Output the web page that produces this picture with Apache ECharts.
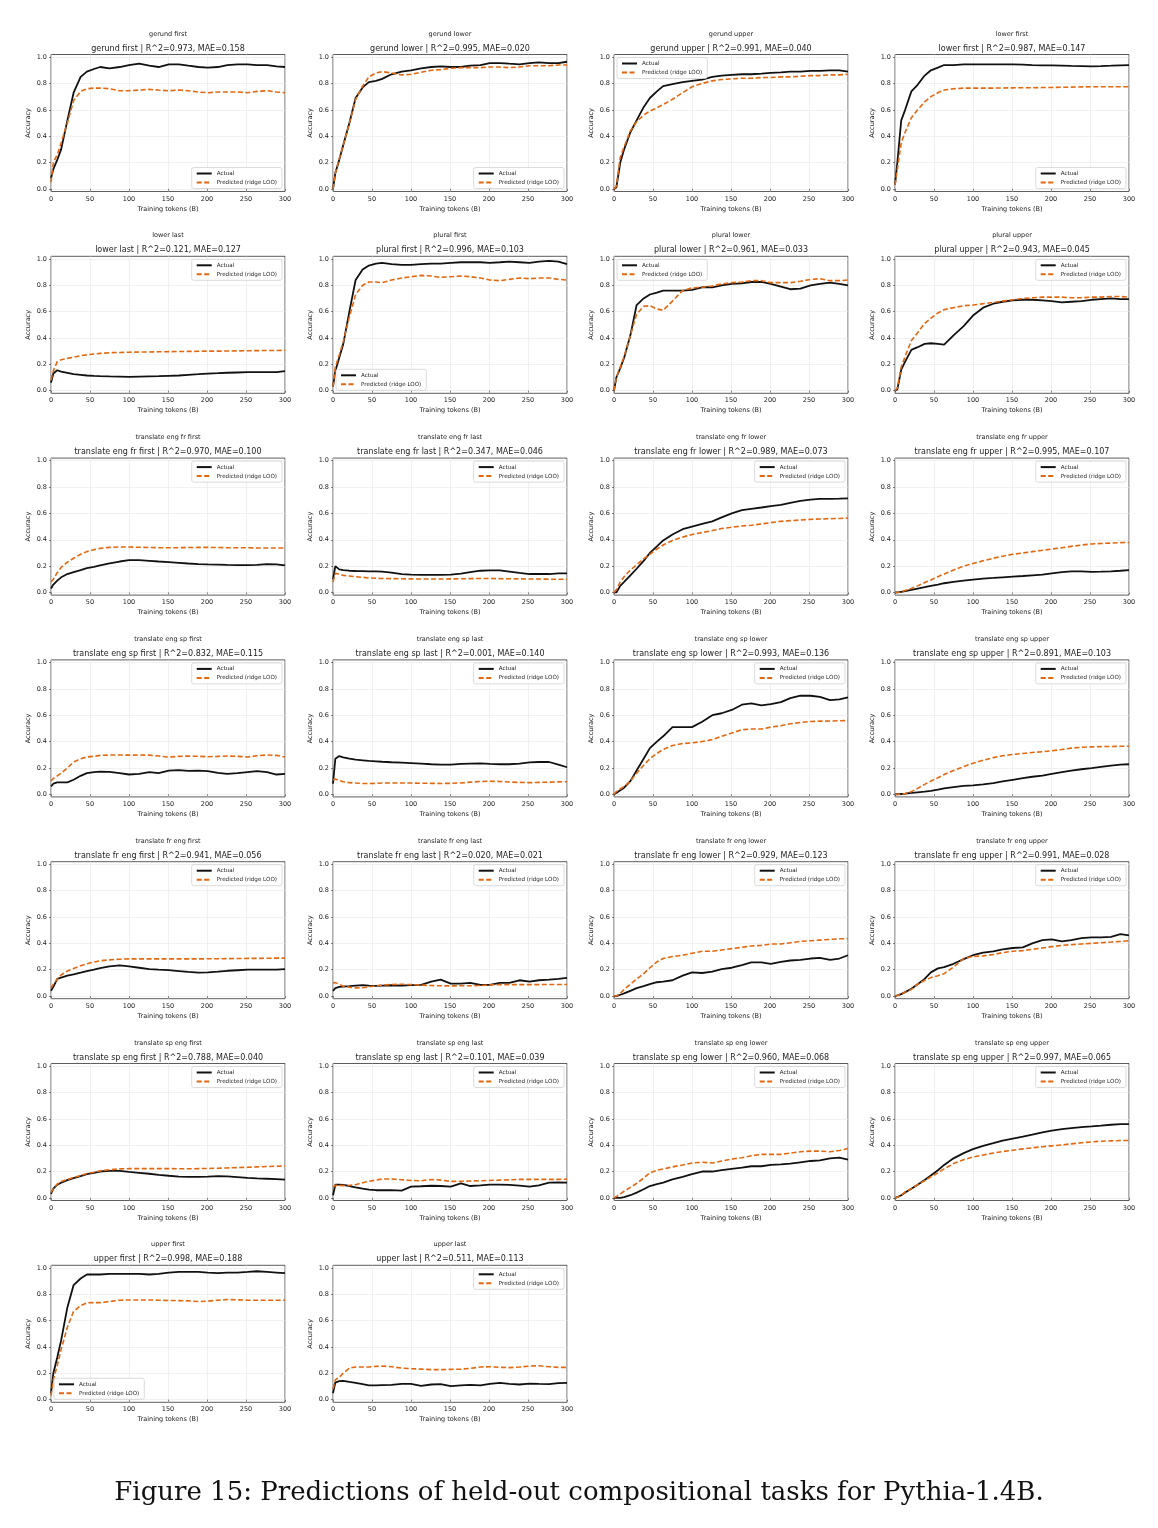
<!DOCTYPE html>
<html>
<head>
<meta charset="utf-8">
<script src="https://cdn.jsdelivr.net/npm/echarts@6/dist/echarts.min.js"></script>
<style>
  html, body { margin: 0; padding: 0; background: #fff; }
  #chart { width: 1158px; height: 1528px; }
</style>
</head>
<body>
<div id="chart"></div>
<script>
// training tokens (billions) at which each curve is sampled
const tokensB = [0, 3, 8, 13, 21, 29, 38, 46, 55, 63, 75, 88, 100, 113, 126, 138, 151, 164, 176, 189, 201, 214, 226, 239, 252, 264, 277, 289, 300];

const gerundFirstActual = [0.08,0.15,0.22,0.3,0.52,0.73,0.85,0.89,0.91,0.925,0.915,0.925,0.94,0.95,0.935,0.925,0.945,0.945,0.935,0.925,0.92,0.925,0.94,0.945,0.945,0.94,0.94,0.93,0.925];
const gerundFirstPred = [0.05,0.2,0.26,0.35,0.5,0.67,0.74,0.76,0.765,0.765,0.76,0.745,0.745,0.75,0.755,0.75,0.745,0.75,0.745,0.735,0.73,0.735,0.735,0.735,0.73,0.74,0.745,0.735,0.73];
const gerundLowerActual = [0,0.12,0.22,0.33,0.5,0.69,0.77,0.81,0.82,0.835,0.87,0.89,0.9,0.915,0.925,0.93,0.925,0.925,0.935,0.94,0.955,0.955,0.95,0.945,0.955,0.96,0.955,0.955,0.965];
const gerundLowerPred = [0,0.12,0.23,0.33,0.5,0.68,0.78,0.85,0.88,0.89,0.88,0.865,0.87,0.885,0.9,0.905,0.915,0.92,0.92,0.92,0.925,0.925,0.92,0.925,0.935,0.935,0.935,0.94,0.94];
const gerundUpperActual = [0,0.01,0.2,0.3,0.43,0.52,0.62,0.69,0.74,0.78,0.795,0.81,0.82,0.83,0.85,0.86,0.865,0.87,0.87,0.875,0.88,0.885,0.89,0.89,0.895,0.895,0.9,0.9,0.89];
const gerundUpperPred = [0,0.02,0.24,0.32,0.44,0.51,0.56,0.59,0.615,0.64,0.68,0.73,0.775,0.8,0.82,0.83,0.835,0.84,0.84,0.845,0.845,0.85,0.85,0.855,0.86,0.86,0.865,0.865,0.87];
const lowerFirstActual = [0.03,0.2,0.52,0.6,0.74,0.79,0.86,0.9,0.92,0.94,0.94,0.945,0.945,0.945,0.945,0.945,0.945,0.943,0.94,0.938,0.937,0.935,0.933,0.932,0.93,0.932,0.935,0.938,0.94];
const lowerFirstPred = [0.03,0.15,0.35,0.43,0.54,0.6,0.66,0.7,0.73,0.75,0.76,0.765,0.765,0.765,0.765,0.766,0.767,0.768,0.768,0.769,0.77,0.771,0.772,0.774,0.775,0.775,0.775,0.775,0.775];
const lowerLastActual = [0.06,0.13,0.155,0.145,0.135,0.125,0.12,0.115,0.112,0.11,0.108,0.106,0.104,0.106,0.108,0.11,0.113,0.115,0.12,0.125,0.13,0.133,0.136,0.138,0.14,0.14,0.14,0.14,0.148];
const lowerLastPred = [0.08,0.15,0.22,0.235,0.245,0.255,0.265,0.272,0.278,0.283,0.288,0.29,0.292,0.293,0.294,0.295,0.296,0.297,0.298,0.299,0.3,0.3,0.301,0.302,0.303,0.304,0.305,0.305,0.306];
const pluralFirstActual = [0.03,0.15,0.25,0.35,0.6,0.84,0.92,0.95,0.965,0.97,0.96,0.955,0.955,0.96,0.965,0.965,0.97,0.975,0.975,0.975,0.97,0.975,0.98,0.975,0.97,0.98,0.985,0.98,0.96];
const pluralFirstPred = [0.03,0.18,0.27,0.37,0.56,0.73,0.8,0.825,0.825,0.82,0.84,0.855,0.865,0.875,0.87,0.86,0.865,0.87,0.865,0.855,0.84,0.835,0.845,0.855,0.85,0.855,0.855,0.845,0.84];
const pluralLowerActual = [0,0.1,0.17,0.25,0.42,0.65,0.7,0.73,0.745,0.76,0.76,0.76,0.765,0.785,0.785,0.8,0.81,0.815,0.825,0.825,0.81,0.79,0.77,0.775,0.8,0.81,0.82,0.81,0.8];
const pluralLowerPred = [0,0.1,0.18,0.26,0.42,0.58,0.64,0.645,0.62,0.61,0.68,0.76,0.78,0.785,0.795,0.81,0.82,0.825,0.835,0.835,0.82,0.82,0.82,0.83,0.845,0.85,0.835,0.835,0.84];
const pluralUpperActual = [0,0.01,0.16,0.22,0.31,0.33,0.355,0.36,0.355,0.35,0.42,0.49,0.57,0.63,0.66,0.675,0.685,0.69,0.69,0.685,0.68,0.67,0.675,0.68,0.69,0.695,0.7,0.695,0.695];
const pluralUpperPred = [0,0.02,0.18,0.26,0.38,0.44,0.51,0.55,0.59,0.615,0.63,0.645,0.65,0.66,0.67,0.68,0.69,0.7,0.705,0.71,0.71,0.71,0.705,0.705,0.71,0.71,0.715,0.715,0.71];
const engFrFirstActual = [0.03,0.06,0.09,0.115,0.14,0.155,0.17,0.185,0.195,0.205,0.22,0.235,0.245,0.245,0.24,0.235,0.23,0.225,0.22,0.215,0.213,0.212,0.21,0.208,0.207,0.21,0.215,0.213,0.205];
const engFrFirstPred = [0.08,0.1,0.15,0.19,0.23,0.26,0.29,0.31,0.325,0.335,0.342,0.345,0.345,0.343,0.341,0.34,0.34,0.34,0.341,0.342,0.342,0.341,0.34,0.339,0.339,0.338,0.338,0.338,0.337];
const engFrLastActual = [0.1,0.2,0.175,0.17,0.165,0.163,0.162,0.16,0.16,0.158,0.15,0.14,0.135,0.133,0.133,0.133,0.135,0.143,0.155,0.165,0.167,0.167,0.158,0.148,0.14,0.14,0.14,0.145,0.145];
const engFrLastPred = [0.08,0.145,0.14,0.13,0.125,0.12,0.115,0.11,0.108,0.106,0.105,0.104,0.103,0.102,0.102,0.102,0.103,0.104,0.105,0.106,0.106,0.105,0.104,0.103,0.102,0.102,0.101,0.1,0.1];
const engFrLowerActual = [0,0,0.05,0.08,0.13,0.18,0.24,0.3,0.35,0.395,0.44,0.48,0.5,0.52,0.54,0.57,0.6,0.625,0.635,0.645,0.655,0.665,0.68,0.695,0.705,0.71,0.71,0.712,0.715];
const engFrLowerPred = [0,0.02,0.08,0.12,0.17,0.21,0.255,0.29,0.33,0.36,0.395,0.42,0.44,0.455,0.47,0.485,0.495,0.505,0.51,0.52,0.53,0.54,0.545,0.55,0.555,0.558,0.56,0.562,0.565];
const engFrUpperActual = [0,0,0.005,0.01,0.02,0.03,0.04,0.05,0.06,0.07,0.08,0.09,0.098,0.105,0.11,0.115,0.12,0.125,0.13,0.135,0.145,0.155,0.16,0.16,0.157,0.158,0.16,0.165,0.17];
const engFrUpperPred = [0,0,0.005,0.015,0.03,0.05,0.075,0.095,0.12,0.14,0.17,0.2,0.22,0.24,0.26,0.275,0.29,0.3,0.31,0.32,0.33,0.34,0.35,0.36,0.368,0.372,0.375,0.378,0.38];
const engSpFirstActual = [0.06,0.08,0.09,0.09,0.09,0.11,0.14,0.16,0.168,0.172,0.17,0.16,0.15,0.155,0.168,0.16,0.18,0.183,0.178,0.18,0.175,0.163,0.155,0.16,0.168,0.175,0.168,0.15,0.155];
const engSpFirstPred = [0.1,0.12,0.14,0.16,0.2,0.245,0.27,0.283,0.288,0.295,0.298,0.298,0.297,0.298,0.297,0.29,0.282,0.288,0.29,0.288,0.285,0.288,0.29,0.288,0.283,0.292,0.298,0.295,0.283];
const engSpLastActual = [0.08,0.27,0.29,0.28,0.27,0.263,0.258,0.253,0.25,0.247,0.243,0.24,0.237,0.233,0.228,0.225,0.225,0.23,0.233,0.235,0.23,0.228,0.228,0.232,0.242,0.245,0.245,0.225,0.205];
const engSpLastPred = [0.11,0.115,0.105,0.095,0.088,0.085,0.083,0.082,0.083,0.085,0.085,0.085,0.085,0.084,0.083,0.082,0.083,0.086,0.092,0.097,0.099,0.097,0.093,0.09,0.088,0.09,0.092,0.094,0.095];
const engSpLowerActual = [0,0.01,0.03,0.05,0.1,0.18,0.27,0.35,0.4,0.44,0.51,0.51,0.51,0.55,0.6,0.615,0.64,0.68,0.69,0.675,0.685,0.7,0.73,0.748,0.748,0.74,0.715,0.72,0.735];
const engSpLowerPred = [0,0.02,0.04,0.06,0.1,0.16,0.22,0.27,0.31,0.34,0.37,0.385,0.39,0.4,0.415,0.44,0.465,0.49,0.495,0.495,0.51,0.52,0.535,0.545,0.552,0.555,0.556,0.558,0.56];
const engSpUpperActual = [0,0,0.002,0.005,0.01,0.015,0.02,0.025,0.035,0.045,0.055,0.063,0.068,0.075,0.085,0.097,0.11,0.123,0.133,0.142,0.155,0.168,0.18,0.19,0.198,0.208,0.218,0.225,0.228];
const engSpUpperPred = [0,0,0,0.005,0.02,0.045,0.075,0.1,0.125,0.15,0.18,0.21,0.235,0.258,0.278,0.292,0.302,0.31,0.317,0.323,0.33,0.34,0.35,0.357,0.36,0.362,0.363,0.364,0.365];
const frEngFirstActual = [0.04,0.07,0.13,0.14,0.155,0.165,0.178,0.19,0.2,0.212,0.225,0.233,0.225,0.215,0.205,0.2,0.197,0.19,0.183,0.178,0.18,0.185,0.192,0.196,0.2,0.2,0.2,0.2,0.205];
const frEngFirstPred = [0.06,0.09,0.13,0.16,0.19,0.21,0.23,0.245,0.258,0.268,0.275,0.28,0.282,0.282,0.282,0.282,0.282,0.282,0.282,0.282,0.283,0.283,0.284,0.285,0.286,0.286,0.287,0.288,0.288];
const frEngLastActual = [0.04,0.06,0.07,0.072,0.075,0.08,0.083,0.08,0.078,0.08,0.082,0.08,0.083,0.085,0.11,0.125,0.095,0.095,0.1,0.085,0.085,0.1,0.1,0.12,0.11,0.12,0.125,0.13,0.138];
const frEngLastPred = [0.1,0.102,0.09,0.075,0.068,0.062,0.063,0.07,0.078,0.083,0.088,0.09,0.087,0.083,0.08,0.078,0.077,0.078,0.078,0.08,0.085,0.087,0.087,0.087,0.087,0.087,0.088,0.088,0.088];
const frEngLowerActual = [0,0,0.01,0.02,0.04,0.06,0.075,0.09,0.105,0.11,0.12,0.155,0.18,0.175,0.185,0.205,0.215,0.235,0.255,0.255,0.245,0.26,0.27,0.275,0.285,0.29,0.275,0.285,0.31];
const frEngLowerPred = [0,0,0.02,0.05,0.09,0.13,0.17,0.215,0.26,0.285,0.3,0.31,0.325,0.34,0.34,0.35,0.36,0.37,0.38,0.385,0.395,0.395,0.405,0.415,0.42,0.425,0.43,0.435,0.435];
const frEngUpperActual = [0,0.005,0.015,0.03,0.055,0.09,0.13,0.18,0.21,0.22,0.245,0.28,0.31,0.33,0.34,0.355,0.365,0.37,0.4,0.425,0.43,0.415,0.425,0.44,0.445,0.445,0.45,0.47,0.46];
const frEngUpperPred = [0,0.005,0.015,0.03,0.05,0.09,0.12,0.14,0.155,0.17,0.22,0.285,0.3,0.305,0.315,0.33,0.34,0.345,0.355,0.365,0.375,0.385,0.39,0.395,0.4,0.405,0.41,0.415,0.42];
const spEngFirstActual = [0.03,0.07,0.1,0.115,0.135,0.15,0.165,0.18,0.19,0.2,0.205,0.205,0.197,0.19,0.183,0.175,0.168,0.162,0.16,0.16,0.162,0.165,0.163,0.158,0.152,0.148,0.145,0.142,0.138];
const spEngFirstPred = [0.04,0.07,0.105,0.125,0.14,0.155,0.17,0.185,0.195,0.205,0.213,0.22,0.222,0.222,0.222,0.222,0.222,0.221,0.221,0.222,0.223,0.225,0.227,0.23,0.232,0.235,0.238,0.24,0.242];
const spEngLastActual = [0.02,0.1,0.1,0.098,0.09,0.08,0.07,0.063,0.058,0.058,0.058,0.055,0.085,0.088,0.092,0.09,0.085,0.11,0.09,0.095,0.1,0.1,0.098,0.093,0.085,0.095,0.115,0.118,0.115];
const spEngLastPred = [0.08,0.095,0.095,0.093,0.095,0.1,0.115,0.125,0.135,0.143,0.143,0.138,0.132,0.13,0.14,0.135,0.125,0.125,0.128,0.13,0.132,0.135,0.137,0.14,0.14,0.14,0.14,0.14,0.143];
const spEngLowerActual = [0,0,0,0.005,0.02,0.04,0.065,0.09,0.105,0.115,0.14,0.16,0.18,0.2,0.2,0.21,0.22,0.23,0.24,0.24,0.25,0.255,0.26,0.27,0.28,0.285,0.3,0.305,0.29];
const spEngLowerPred = [0,0.01,0.03,0.05,0.08,0.11,0.15,0.19,0.21,0.22,0.235,0.25,0.265,0.27,0.265,0.28,0.295,0.305,0.32,0.33,0.33,0.33,0.34,0.35,0.355,0.355,0.35,0.36,0.375];
const spEngUpperActual = [0,0.005,0.02,0.04,0.07,0.1,0.135,0.17,0.21,0.25,0.3,0.34,0.37,0.395,0.415,0.435,0.45,0.465,0.48,0.497,0.51,0.522,0.53,0.537,0.542,0.548,0.555,0.56,0.56];
const spEngUpperPred = [0,0.005,0.02,0.045,0.07,0.1,0.13,0.16,0.19,0.22,0.26,0.29,0.31,0.325,0.34,0.352,0.362,0.372,0.38,0.388,0.395,0.402,0.41,0.418,0.425,0.43,0.433,0.435,0.435];
const upperFirstActual = [0.05,0.2,0.32,0.45,0.7,0.87,0.92,0.95,0.95,0.95,0.955,0.955,0.955,0.955,0.95,0.955,0.965,0.97,0.97,0.97,0.965,0.96,0.965,0.965,0.97,0.975,0.97,0.965,0.96];
const upperFirstPred = [0.03,0.15,0.26,0.38,0.55,0.67,0.715,0.735,0.737,0.737,0.745,0.755,0.757,0.757,0.757,0.755,0.753,0.752,0.75,0.745,0.748,0.755,0.76,0.758,0.755,0.755,0.755,0.755,0.755];
const upperLastActual = [0.05,0.13,0.14,0.143,0.135,0.128,0.118,0.108,0.108,0.11,0.113,0.12,0.12,0.105,0.115,0.118,0.103,0.108,0.112,0.108,0.12,0.128,0.12,0.115,0.122,0.12,0.118,0.125,0.128];
const upperLastPred = [0.08,0.15,0.17,0.2,0.24,0.248,0.248,0.248,0.253,0.255,0.25,0.24,0.235,0.232,0.228,0.228,0.23,0.232,0.237,0.248,0.25,0.245,0.243,0.248,0.255,0.257,0.25,0.245,0.245];

const taskNames = [
  'gerund first', 'gerund lower', 'gerund upper', 'lower first',
  'lower last', 'plural first', 'plural lower', 'plural upper',
  'translate eng fr first', 'translate eng fr last', 'translate eng fr lower', 'translate eng fr upper',
  'translate eng sp first', 'translate eng sp last', 'translate eng sp lower', 'translate eng sp upper',
  'translate fr eng first', 'translate fr eng last', 'translate fr eng lower', 'translate fr eng upper',
  'translate sp eng first', 'translate sp eng last', 'translate sp eng lower', 'translate sp eng upper',
  'upper first', 'upper last'
];
const r2Values = [0.973, 0.995, 0.991, 0.987, 0.121, 0.996, 0.961, 0.943, 0.970, 0.347, 0.989, 0.995, 0.832, 0.001, 0.993, 0.891, 0.941, 0.020, 0.929, 0.991, 0.788, 0.101, 0.960, 0.997, 0.998, 0.511];
const maeValues = [0.158, 0.020, 0.040, 0.147, 0.127, 0.103, 0.033, 0.045, 0.100, 0.046, 0.073, 0.107, 0.115, 0.140, 0.136, 0.103, 0.056, 0.021, 0.123, 0.028, 0.040, 0.039, 0.068, 0.065, 0.188, 0.113];
const actualSeries = [gerundFirstActual, gerundLowerActual, gerundUpperActual, lowerFirstActual, lowerLastActual, pluralFirstActual, pluralLowerActual, pluralUpperActual, engFrFirstActual, engFrLastActual, engFrLowerActual, engFrUpperActual, engSpFirstActual, engSpLastActual, engSpLowerActual, engSpUpperActual, frEngFirstActual, frEngLastActual, frEngLowerActual, frEngUpperActual, spEngFirstActual, spEngLastActual, spEngLowerActual, spEngUpperActual, upperFirstActual, upperLastActual];
const predictedSeries = [gerundFirstPred, gerundLowerPred, gerundUpperPred, lowerFirstPred, lowerLastPred, pluralFirstPred, pluralLowerPred, pluralUpperPred, engFrFirstPred, engFrLastPred, engFrLowerPred, engFrUpperPred, engSpFirstPred, engSpLastPred, engSpLowerPred, engSpUpperPred, frEngFirstPred, frEngLastPred, frEngLowerPred, frEngUpperPred, spEngFirstPred, spEngLastPred, spEngLowerPred, spEngUpperPred, upperFirstPred, upperLastPred];
// legend corner per panel: lr = lower right, ur = upper right, ul = upper left, ll = lower left
const legendCorners = ['lr','lr','ul','lr','ur','ll','ul','ur','ur','ur','ur','ur','ur','ur','ur','ur','ur','ur','ur','ur','ur','ur','ur','ur','ll','ur'];
const yTickValues = [0, 0.2, 0.4, 0.6, 0.8, 1.0];

const W = 1158, H = 1528;
const colLeft = [51, 333, 614, 895];
const plotW = 234, plotH = 137;
const FONT = 'DejaVu Sans';
const TXT = '#222';
const ORANGE = '#e3670f';

const grids = [], xAxes = [], yAxes = [], titles = [], legends = [], series = [];

taskNames.forEach((name, i) => {
  const left = colLeft[i % 4];
  const top = 54.5 + Math.floor(i / 4) * 201.8;

  grids.push({ left, top, width: plotW, height: plotH, show: true, borderColor: '#333', borderWidth: 0.8, backgroundColor: '#fff' });

  xAxes.push({
    gridIndex: i, type: 'value', min: 0, max: 300, interval: 50,
    name: 'Training tokens (B)', nameLocation: 'middle', nameGap: 14,
    nameTextStyle: { fontFamily: FONT, fontSize: 6.5, color: TXT },
    axisLine: { show: false },
    axisTick: { show: true, length: 2, lineStyle: { color: '#333', width: 0.6 } },
    axisLabel: { fontFamily: FONT, fontSize: 6.5, color: TXT, margin: 4 },
    splitLine: { show: true, lineStyle: { color: '#e8e8e8', width: 0.6 } }
  });

  yAxes.push({
    gridIndex: i, type: 'value', min: -0.02, max: 1.02,
    name: 'Accuracy', nameLocation: 'middle', nameGap: 19, nameRotate: 90,
    nameTextStyle: { fontFamily: FONT, fontSize: 6.5, color: TXT },
    axisLine: { show: false },
    axisTick: { show: true, length: 2, customValues: yTickValues, lineStyle: { color: '#333', width: 0.6 } },
    axisLabel: { fontFamily: FONT, fontSize: 6.5, color: TXT, margin: 4, customValues: yTickValues, formatter: v => v.toFixed(1) },
    splitLine: { show: true, lineStyle: { color: '#e8e8e8', width: 0.6 } }
  });

  titles.push({
    text: name, left: left + plotW / 2, top: top - 24, textAlign: 'center', padding: 0,
    textStyle: { fontFamily: FONT, fontSize: 6.5, fontWeight: 'normal', color: TXT }
  });
  titles.push({
    text: `${name} | R^2=${r2Values[i].toFixed(3)}, MAE=${maeValues[i].toFixed(3)}`,
    left: left + plotW / 2, top: top - 10, textAlign: 'center', padding: 0,
    textStyle: { fontFamily: FONT, fontSize: 8, fontWeight: 'normal', color: TXT }
  });

  const corner = legendCorners[i];
  const lg = {
    orient: 'vertical', selectedMode: false,
    itemWidth: 15, itemHeight: 6, itemGap: 3, padding: [3, 5, 3, 4],
    backgroundColor: 'rgba(255,255,255,0.85)', borderColor: '#cccccc', borderWidth: 0.7, borderRadius: 2,
    itemStyle: { opacity: 0 },
    textStyle: { fontFamily: FONT, fontSize: 5.6, color: TXT },
    data: ['Actual', 'Predicted (ridge LOO)']
  };
  if (corner[0] === 'u') lg.top = top + 3; else lg.bottom = H - (top + plotH) + 3;
  if (corner[1] === 'r') lg.right = W - (left + plotW) + 3; else lg.left = left + 3;
  legends.push(lg);

  series.push({
    type: 'line', name: 'Actual', xAxisIndex: i, yAxisIndex: i, symbol: 'none', silent: true,
    data: tokensB.map((x, k) => [x, actualSeries[i][k]]),
    lineStyle: { color: '#111', width: 1.8 }, itemStyle: { color: '#111' }, z: 2
  });
  series.push({
    type: 'line', name: 'Predicted (ridge LOO)', xAxisIndex: i, yAxisIndex: i, symbol: 'none', silent: true,
    data: tokensB.map((x, k) => [x, predictedSeries[i][k]]),
    lineStyle: { color: ORANGE, width: 1.6, type: [5, 2.5] }, itemStyle: { color: ORANGE }, z: 3
  });
});

titles.push({
  text: 'Figure 15: Predictions of held-out compositional tasks for Pythia-1.4B.',
  left: W / 2, top: 1480, textAlign: 'center', padding: 0,
  textStyle: { fontFamily: 'DejaVu Serif', fontSize: 26, fontWeight: 'normal', color: '#111' }
});

const chart = echarts.init(document.getElementById('chart'));
chart.setOption({
  animation: false,
  backgroundColor: '#fff',
  title: titles,
  legend: legends,
  grid: grids,
  xAxis: xAxes,
  yAxis: yAxes,
  series: series
});
</script>
</body>
</html>
